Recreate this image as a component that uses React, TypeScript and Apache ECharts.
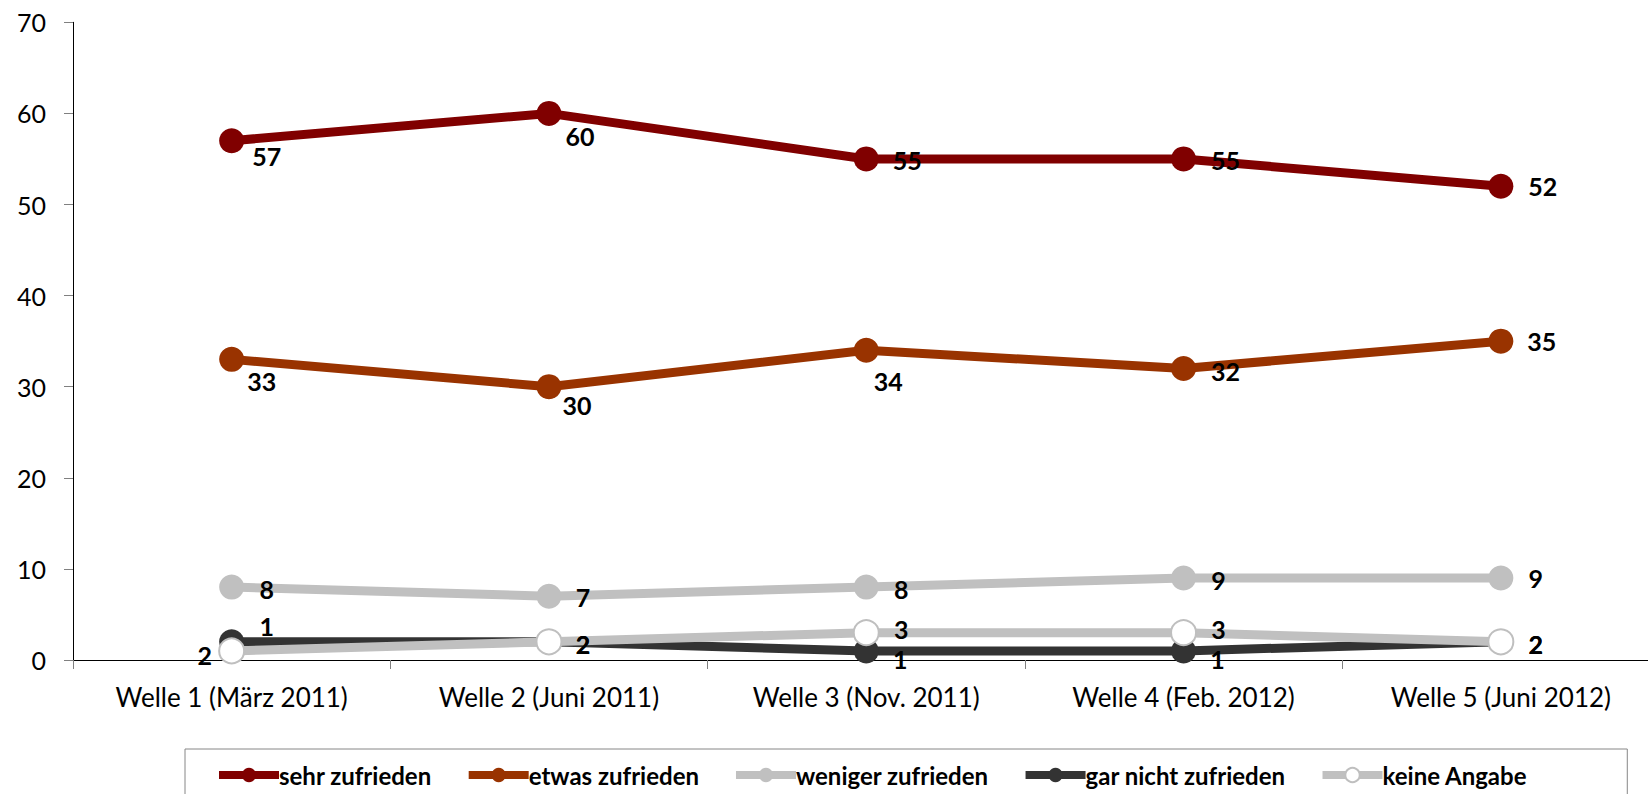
import React, { useEffect, useRef } from "react";
import * as echarts from "echarts";

// Survey waves (categories)
const waves = [
  "Welle 1 (März 2011)",
  "Welle 2 (Juni 2011)",
  "Welle 3 (Nov. 2011)",
  "Welle 4 (Feb. 2012)",
  "Welle 5 (Juni 2012)",
];

// Answer shares per wave, in percent
const sehrZufrieden = [57, 60, 55, 55, 52];
const etwasZufrieden = [33, 30, 34, 32, 35];
const wenigerZufrieden = [8, 7, 8, 9, 9];
const garNichtZufrieden = [2, 2, 1, 1, 2];
const keineAngabe = [1, 2, 3, 3, 2];

// Y-axis scale
const yMin = 0;
const yMax = 70;
const yStep = 10;

// Pixel offsets of each value label from its marker centre
const offsetsSehr = [[35, 15], [31, 23], [41, 1], [42, 1], [42, 0]];
const offsetsEtwas = [[30, 22], [28, 18], [22, 31], [42, 3], [41, 0]];
const offsetsWeniger = [[35, 2], [34, 1], [35, 2], [35, 2], [35, 0]];
const offsetsGarNicht = [[-27, 13], [34, 2], [34, 8], [34, 8], [35, 2]];
const offsetsKeine = [[35, -25], [34, 2], [35, -4], [35, -4], [35, 2]];

const FONT = "Lato";

function makeSeries(
  name: string,
  values: number[],
  offsets: number[][],
  lineColor: string,
  fill: string,
  border?: string
) {
  return {
    name,
    type: "line",
    data: values.map((v, i) => ({ value: v, label: { offset: offsets[i] } })),
    symbol: "circle",
    symbolSize: 25,
    lineStyle: { color: lineColor, width: 9 },
    itemStyle: border
      ? { color: fill, borderColor: border, borderWidth: 2 }
      : { color: fill },
    label: {
      show: true,
      position: "inside",
      fontFamily: FONT,
      fontWeight: "bold",
      fontSize: 25,
      color: "#000",
    },
    emphasis: { disabled: true },
  };
}

export default function App() {
  const ref = useRef<HTMLDivElement>(null);

  useEffect(() => {
    if (!ref.current) return;
    const chart = echarts.init(ref.current, null, { renderer: "svg" });
    chart.setOption({
      animation: false,
      backgroundColor: "#fff",
      grid: { left: 73, top: 22.3, width: 1586.5, height: 637.7 },
      legend: {
        left: 185,
        top: 749,
        orient: "horizontal",
        borderColor: "#868686",
        borderWidth: 1,
        padding: [14, 100, 40, 30],
        itemWidth: 60,
        itemHeight: 18,
        itemGap: 33,
        lineStyle: { width: 8 },
        textStyle: {
          fontFamily: FONT,
          fontWeight: "bold",
          fontSize: 24,
          color: "#000",
          padding: [0, 0, 0, -5],
        },
      },
      xAxis: {
        type: "category",
        data: waves,
        boundaryGap: true,
        axisLine: { show: true, lineStyle: { color: "#000", width: 1 } },
        axisTick: { show: true, length: 9, lineStyle: { color: "#808080" } },
        axisLabel: {
          fontFamily: FONT,
          fontSize: 26,
          color: "#000",
          margin: 24,
          interval: 0,
        },
      },
      yAxis: {
        type: "value",
        min: yMin,
        max: yMax,
        interval: yStep,
        axisLine: { show: true, lineStyle: { color: "#000", width: 1 } },
        axisTick: { show: true, length: 9, lineStyle: { color: "#808080" } },
        splitLine: { show: false },
        axisLabel: {
          fontFamily: FONT,
          fontSize: 25,
          color: "#000",
          margin: 27,
        },
      },
      series: [
        makeSeries("sehr zufrieden", sehrZufrieden, offsetsSehr, "#800000", "#800000"),
        makeSeries("etwas zufrieden", etwasZufrieden, offsetsEtwas, "#993300", "#993300"),
        makeSeries("weniger zufrieden", wenigerZufrieden, offsetsWeniger, "#C0C0C0", "#C0C0C0"),
        makeSeries("gar nicht zufrieden", garNichtZufrieden, offsetsGarNicht, "#333333", "#333333"),
        makeSeries("keine Angabe", keineAngabe, offsetsKeine, "#C0C0C0", "#FFFFFF", "#BFBFBF"),
      ],
    });
    return () => chart.dispose();
  }, []);

  // The plot runs slightly past the right page edge, so the chart canvas is
  // wider than the visible frame that clips it.
  return (
    <div
      style={{
        position: "absolute",
        left: 0,
        top: 0,
        width: 1648,
        height: 794,
        overflow: "hidden",
        background: "#fff",
      }}
    >
      <div ref={ref} style={{ width: 1680, height: 794 }} />
    </div>
  );
}
